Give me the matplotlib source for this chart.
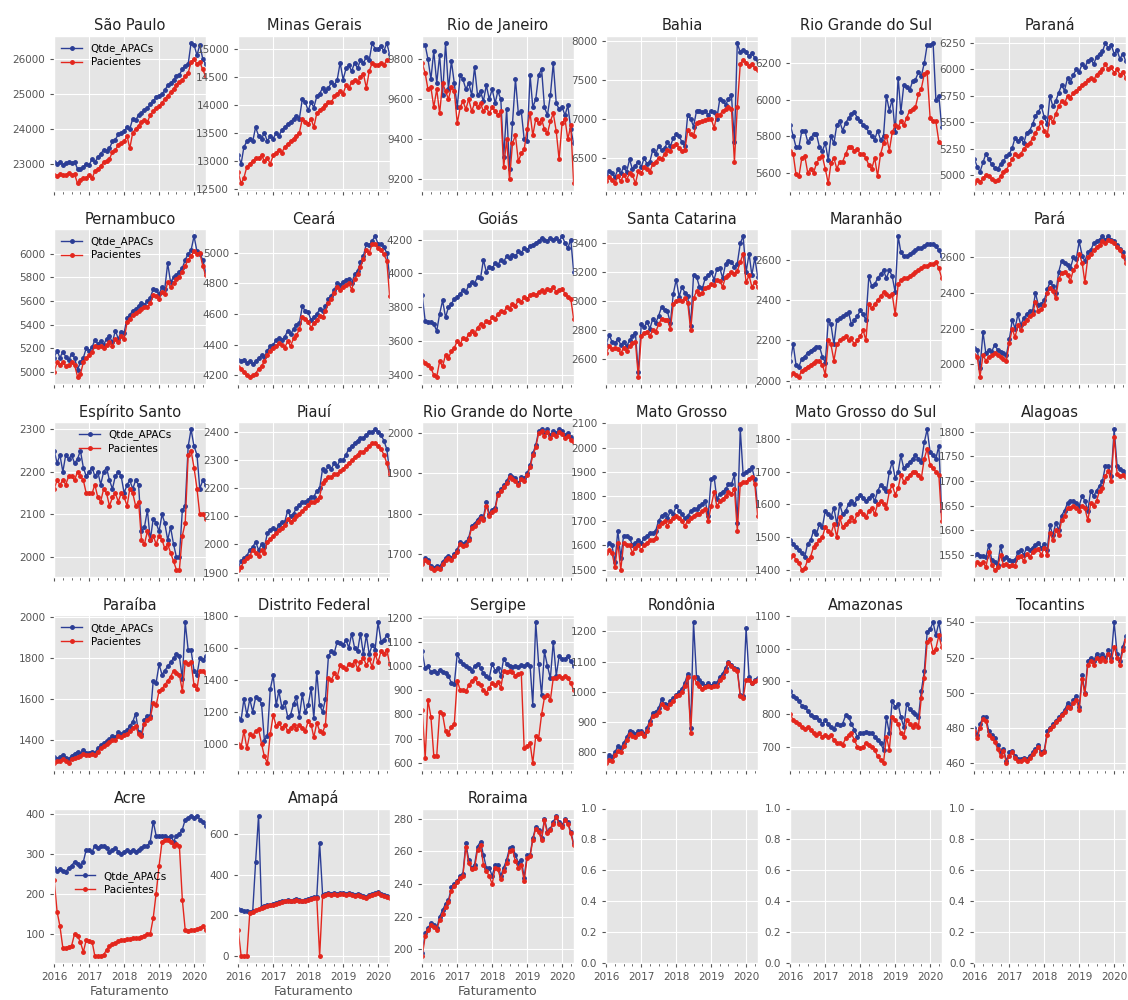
import matplotlib
matplotlib.use("Agg")
import matplotlib.pyplot as plt
import matplotlib.dates as mdates
from matplotlib.ticker import FixedLocator
import pandas as pd

plt.style.use("ggplot")
plt.rcParams["font.family"] = ["DejaVu Sans"]
plt.rcParams["xtick.labelsize"] = 7.5
plt.rcParams["ytick.labelsize"] = 7.5

months = pd.date_range("2016-01-01", periods=53, freq="MS")

states = ["São Paulo", "Minas Gerais", "Rio de Janeiro", "Bahia", "Rio Grande do Sul", "Paraná",
          "Pernambuco", "Ceará", "Goiás", "Santa Catarina", "Maranhão", "Pará",
          "Espírito Santo", "Piauí", "Rio Grande do Norte", "Mato Grosso", "Mato Grosso do Sul", "Alagoas",
          "Paraíba", "Distrito Federal", "Sergipe", "Rondônia", "Amazonas", "Tocantins",
          "Acre", "Amapá", "Roraima"]

sp_q = [23050, 23000, 23070, 22980, 23030, 23060, 23020, 23070, 22870, 22850, 22920, 23000, 22980, 23150, 23050, 23200, 23300, 23400, 23380, 23450, 23650, 23700, 23850, 23900, 23950, 24050, 24000, 24300, 24250, 24400, 24450, 24550, 24600, 24700, 24800, 24900, 24950, 25000, 25100, 25250, 25300, 25400, 25500, 25550, 25700, 25800, 25850, 26450, 26400, 26100, 26400, 26000, 25850]
sp_p = [22700, 22650, 22720, 22680, 22700, 22750, 22700, 22720, 22450, 22550, 22600, 22620, 22700, 22600, 22800, 22850, 22950, 23050, 23100, 23150, 23350, 23400, 23550, 23600, 23650, 23800, 23450, 23900, 24000, 24100, 24200, 24250, 24200, 24400, 24500, 24600, 24650, 24750, 24850, 24950, 25050, 25150, 25250, 25350, 25400, 25500, 25600, 25900, 26000, 25850, 25900, 25700, 25500]
mg_q = [13100, 12950, 13250, 13350, 13400, 13350, 13600, 13450, 13400, 13500, 13350, 13450, 13400, 13500, 13450, 13550, 13600, 13650, 13700, 13750, 13800, 13750, 14100, 14050, 13900, 14050, 13950, 14150, 14200, 14300, 14250, 14300, 14400, 14350, 14450, 14750, 14450, 14650, 14700, 14600, 14750, 14650, 14800, 14750, 14850, 14800, 15100, 15000, 15000, 15050, 14950, 15100, 14900]
mg_p = [12800, 12600, 12700, 12900, 12950, 13000, 13050, 13050, 13100, 13000, 13050, 12950, 13100, 13150, 13200, 13150, 13250, 13300, 13350, 13400, 13450, 13500, 13750, 13700, 13650, 13750, 13600, 13850, 13900, 13950, 14000, 14050, 14050, 14150, 14200, 14250, 14200, 14350, 14300, 14400, 14450, 14400, 14500, 14550, 14300, 14600, 14750, 14700, 14700, 14750, 14700, 14800, 14800]
rj_q = [9870, 9870, 9800, 9700, 9840, 9680, 9820, 9620, 9880, 9650, 9790, 9680, 9560, 9720, 9700, 9650, 9680, 9620, 9760, 9620, 9640, 9590, 9670, 9600, 9650, 9580, 9640, 9600, 9310, 9550, 9250, 9480, 9700, 9530, 9540, 9400, 9390, 9720, 9560, 9600, 9720, 9750, 9560, 9520, 9620, 9780, 9580, 9550, 9560, 9520, 9570, 9450, 9380]
rj_p = [9780, 9730, 9650, 9660, 9560, 9650, 9530, 9680, 9640, 9600, 9660, 9640, 9480, 9560, 9590, 9550, 9600, 9540, 9580, 9560, 9580, 9540, 9560, 9530, 9560, 9540, 9520, 9540, 9260, 9400, 9200, 9380, 9420, 9290, 9330, 9350, 9450, 9530, 9420, 9500, 9480, 9500, 9450, 9430, 9490, 9530, 9440, 9300, 9480, 9500, 9400, 9470, 9180]
ba_q = [6280, 6330, 6300, 6250, 6350, 6300, 6380, 6320, 6480, 6350, 6400, 6450, 6380, 6500, 6420, 6450, 6600, 6550, 6650, 6600, 6620, 6700, 6650, 6750, 6800, 6780, 6700, 6650, 7050, 7000, 6900, 7100, 7100, 7080, 7100, 7050, 7100, 7080, 7000, 7250, 7230, 7180, 7250, 7300, 6700, 7970, 7850, 7880, 7850, 7800, 7840, 7780, 7750]
ba_p = [6200, 6250, 6220, 6180, 6260, 6200, 6280, 6220, 6300, 6280, 6170, 6330, 6300, 6380, 6350, 6320, 6420, 6450, 6500, 6480, 6550, 6600, 6580, 6650, 6680, 6620, 6580, 6600, 6850, 6800, 6780, 6950, 6960, 6970, 6980, 6990, 7000, 6880, 7050, 7050, 7100, 7120, 7150, 7130, 6450, 7150, 7700, 7750, 7720, 7680, 7700, 7650, 7620]
rs_q = [5860, 5800, 5740, 5740, 5830, 5830, 5770, 5790, 5810, 5810, 5740, 5720, 5760, 5670, 5800, 5760, 5860, 5880, 5830, 5870, 5900, 5920, 5930, 5900, 5880, 5860, 5850, 5820, 5800, 5780, 5830, 5780, 5800, 6020, 5940, 6000, 5820, 6120, 5930, 6080, 6070, 6050, 6100, 6110, 6150, 6130, 6200, 6300, 6300, 6310, 6000, 6020, 5850]
rs_p = [5720, 5700, 5590, 5580, 5680, 5690, 5600, 5620, 5600, 5650, 5680, 5690, 5620, 5540, 5650, 5680, 5620, 5660, 5660, 5700, 5740, 5740, 5720, 5730, 5700, 5700, 5680, 5640, 5620, 5680, 5580, 5700, 5760, 5800, 5720, 5820, 5860, 5850, 5880, 5860, 5900, 5940, 5950, 5960, 6030, 6060, 6140, 6150, 5900, 5880, 5880, 5770, 5760]
pr_q = [5150, 5080, 5030, 5120, 5200, 5150, 5100, 5070, 5060, 5100, 5130, 5180, 5200, 5260, 5350, 5320, 5350, 5300, 5400, 5420, 5480, 5560, 5600, 5650, 5550, 5480, 5750, 5650, 5700, 5780, 5850, 5800, 5920, 5880, 5950, 6000, 5980, 6050, 6020, 6080, 6100, 6050, 6120, 6150, 6170, 6250, 6200, 6230, 6150, 6180, 6100, 6150, 6080]
pr_p = [4920, 4950, 4930, 4970, 5000, 4990, 4960, 4940, 4950, 4990, 5030, 5050, 5100, 5150, 5200, 5180, 5200, 5250, 5280, 5300, 5350, 5400, 5450, 5500, 5420, 5380, 5550, 5500, 5580, 5650, 5700, 5680, 5750, 5730, 5780, 5800, 5820, 5850, 5870, 5900, 5920, 5900, 5950, 5980, 6000, 6050, 6000, 6020, 5970, 6000, 5950, 5980, 5920]

pe_q = [5120, 5180, 5120, 5170, 5130, 5100, 5150, 5120, 5020, 5080, 5120, 5200, 5180, 5210, 5270, 5240, 5260, 5230, 5280, 5300, 5250, 5350, 5280, 5340, 5330, 5460, 5480, 5520, 5530, 5560, 5580, 5570, 5600, 5630, 5700, 5690, 5660, 5720, 5700, 5920, 5760, 5800, 5820, 5850, 5880, 5950, 6000, 6030, 6150, 6020, 6000, 5950, 5850]
pe_p = [5000, 5080, 5060, 5080, 5050, 5060, 5080, 5060, 4960, 4980, 5080, 5120, 5140, 5170, 5220, 5210, 5220, 5200, 5230, 5250, 5220, 5280, 5250, 5300, 5280, 5420, 5450, 5480, 5500, 5520, 5530, 5550, 5550, 5580, 5650, 5640, 5620, 5680, 5660, 5760, 5720, 5750, 5790, 5800, 5850, 5900, 5950, 5980, 6020, 6000, 6010, 5900, 5820]
ce_q = [4300, 4290, 4300, 4280, 4290, 4270, 4290, 4310, 4330, 4320, 4360, 4390, 4400, 4430, 4440, 4430, 4450, 4490, 4470, 4500, 4530, 4540, 4650, 4620, 4610, 4560, 4580, 4600, 4630, 4620, 4650, 4700, 4720, 4760, 4800, 4790, 4810, 4820, 4830, 4800, 4860, 4880, 4940, 4980, 5060, 5050, 5080, 5110, 5060, 5060, 5040, 5000, 4850]
ce_p = [4250, 4240, 4220, 4200, 4190, 4200, 4210, 4240, 4260, 4290, 4330, 4360, 4380, 4390, 4410, 4400, 4380, 4420, 4390, 4440, 4460, 4500, 4580, 4570, 4550, 4510, 4540, 4560, 4590, 4580, 4620, 4670, 4700, 4740, 4780, 4760, 4780, 4790, 4800, 4760, 4830, 4860, 4910, 4960, 5020, 5000, 5060, 5060, 5030, 5020, 4990, 4950, 4720]
go_q = [3870, 3720, 3710, 3710, 3700, 3660, 3760, 3840, 3740, 3800, 3820, 3850, 3860, 3880, 3900, 3890, 3930, 3950, 3940, 3980, 3970, 4080, 4010, 4040, 4030, 4060, 4050, 4080, 4070, 4100, 4090, 4110, 4100, 4130, 4120, 4150, 4140, 4160, 4170, 4180, 4190, 4210, 4200, 4190, 4210, 4200, 4210, 4190, 4220, 4180, 4150, 4200, 4010]
go_p = [3480, 3470, 3460, 3440, 3400, 3390, 3480, 3450, 3520, 3500, 3540, 3560, 3600, 3580, 3620, 3610, 3640, 3660, 3640, 3680, 3700, 3690, 3720, 3710, 3740, 3730, 3760, 3780, 3770, 3800, 3790, 3820, 3810, 3840, 3830, 3860, 3850, 3870, 3880, 3870, 3890, 3900, 3890, 3910, 3900, 3920, 3890, 3900, 3910, 3880, 3860, 3850, 3730]
sc_q = [2700, 2770, 2720, 2710, 2740, 2700, 2720, 2690, 2730, 2760, 2780, 2510, 2840, 2820, 2860, 2810, 2880, 2850, 2900, 2960, 2940, 2930, 2850, 3050, 3150, 3030, 3100, 3060, 3040, 2830, 3180, 3170, 3100, 3090, 3160, 3180, 3200, 3150, 3220, 3230, 3160, 3260, 3280, 3270, 3240, 3260, 3400, 3450, 3200, 3330, 3180, 3300, 3170]
sc_p = [2640, 2690, 2670, 2680, 2670, 2640, 2680, 2660, 2690, 2710, 2720, 2480, 2760, 2780, 2790, 2760, 2800, 2790, 2840, 2880, 2870, 2870, 2810, 2980, 3000, 3010, 3000, 3020, 2990, 2800, 3020, 3070, 3050, 3060, 3090, 3100, 3120, 3110, 3150, 3140, 3100, 3170, 3180, 3200, 3190, 3210, 3270, 3330, 3130, 3180, 3100, 3130, 3100]
ma_q = [2100, 2180, 2080, 2070, 2110, 2120, 2140, 2150, 2160, 2170, 2170, 2120, 2090, 2300, 2280, 2180, 2300, 2310, 2320, 2330, 2340, 2280, 2300, 2320, 2350, 2330, 2300, 2520, 2470, 2480, 2510, 2530, 2550, 2510, 2550, 2520, 2440, 2720, 2640, 2620, 2620, 2630, 2640, 2650, 2660, 2660, 2670, 2680, 2680, 2680, 2670, 2650, 2620]
ma_p = [2030, 2040, 2030, 2020, 2050, 2060, 2070, 2080, 2090, 2100, 2100, 2080, 2030, 2200, 2180, 2100, 2180, 2200, 2210, 2220, 2200, 2210, 2180, 2200, 2220, 2250, 2200, 2380, 2360, 2380, 2400, 2420, 2440, 2430, 2420, 2430, 2330, 2480, 2500, 2510, 2510, 2520, 2530, 2540, 2550, 2560, 2570, 2570, 2580, 2580, 2590, 2560, 2510]
pa_q = [2090, 2080, 1980, 2180, 2060, 2080, 2070, 2110, 2080, 2070, 2060, 2050, 2140, 2250, 2200, 2280, 2220, 2260, 2280, 2300, 2300, 2400, 2330, 2340, 2360, 2420, 2460, 2440, 2400, 2520, 2580, 2570, 2560, 2540, 2600, 2590, 2690, 2610, 2580, 2630, 2640, 2680, 2690, 2700, 2720, 2700, 2720, 2700, 2690, 2670, 2650, 2630, 2590]
pa_p = [2050, 2040, 1930, 2050, 2020, 2040, 2050, 2060, 2050, 2040, 2030, 2020, 2120, 2200, 2150, 2220, 2190, 2230, 2250, 2270, 2280, 2350, 2300, 2310, 2330, 2400, 2430, 2410, 2370, 2480, 2510, 2520, 2500, 2470, 2530, 2550, 2620, 2570, 2460, 2600, 2620, 2640, 2660, 2670, 2690, 2680, 2700, 2690, 2680, 2660, 2640, 2610, 2570]

es_q = [2250, 2220, 2240, 2200, 2240, 2230, 2240, 2220, 2230, 2250, 2210, 2190, 2200, 2210, 2190, 2200, 2170, 2200, 2210, 2180, 2160, 2190, 2200, 2190, 2150, 2170, 2180, 2160, 2180, 2170, 2060, 2070, 2110, 2040, 2090, 2080, 2060, 2100, 2080, 2040, 2070, 2030, 2000, 2000, 2110, 2120, 2260, 2300, 2260, 2240, 2160, 2180, 2170]
es_p = [2160, 2180, 2170, 2180, 2170, 2190, 2190, 2180, 2200, 2190, 2180, 2150, 2150, 2150, 2170, 2140, 2130, 2160, 2150, 2120, 2140, 2150, 2130, 2150, 2140, 2120, 2160, 2150, 2120, 2130, 2040, 2030, 2060, 2040, 2050, 2030, 2050, 2040, 2020, 2030, 2010, 1990, 1970, 1970, 2050, 2080, 2240, 2250, 2210, 2160, 2100, 2100, 2090]
pi_q = [1920, 1940, 1950, 1960, 1980, 1990, 2010, 1980, 2000, 1990, 2040, 2050, 2060, 2050, 2070, 2080, 2080, 2120, 2100, 2110, 2130, 2140, 2150, 2150, 2160, 2170, 2170, 2190, 2200, 2270, 2260, 2280, 2270, 2290, 2280, 2300, 2300, 2320, 2340, 2350, 2360, 2370, 2380, 2380, 2390, 2400, 2400, 2410, 2400, 2390, 2370, 2340, 2260]
pi_p = [1910, 1920, 1940, 1950, 1960, 1980, 1970, 1960, 1980, 1970, 2010, 2020, 2030, 2040, 2050, 2060, 2070, 2090, 2080, 2090, 2100, 2110, 2120, 2130, 2140, 2150, 2150, 2160, 2170, 2220, 2230, 2240, 2240, 2250, 2250, 2260, 2270, 2280, 2290, 2300, 2310, 2320, 2330, 2330, 2340, 2350, 2360, 2360, 2350, 2340, 2320, 2290, 2250]
rn_q = [1680, 1690, 1685, 1670, 1665, 1670, 1668, 1680, 1690, 1695, 1690, 1700, 1710, 1730, 1725, 1728, 1740, 1770, 1775, 1785, 1795, 1790, 1830, 1800, 1810, 1815, 1850, 1860, 1870, 1880, 1895, 1890, 1888, 1875, 1890, 1888, 1900, 1920, 1950, 1970, 2005, 2010, 2000, 2010, 1995, 2005, 2000, 2010, 2005, 1995, 2000, 1990, 1985]
rn_p = [1675, 1685, 1680, 1665, 1660, 1665, 1662, 1675, 1685, 1690, 1685, 1695, 1705, 1725, 1720, 1722, 1735, 1765, 1770, 1780, 1790, 1785, 1820, 1795, 1805, 1810, 1845, 1855, 1865, 1875, 1890, 1885, 1882, 1870, 1885, 1882, 1895, 1915, 1945, 1965, 2000, 2005, 1992, 2003, 1988, 1998, 1993, 2003, 1998, 1988, 1993, 1983, 1978]
mt_q = [1600, 1610, 1600, 1530, 1660, 1550, 1640, 1640, 1630, 1600, 1610, 1620, 1610, 1630, 1640, 1650, 1650, 1660, 1700, 1720, 1730, 1710, 1740, 1730, 1760, 1740, 1730, 1710, 1720, 1740, 1750, 1750, 1760, 1770, 1780, 1720, 1870, 1880, 1790, 1810, 1820, 1830, 1850, 1850, 1890, 1690, 2075, 1890, 1900, 1910, 1920, 1870, 1760]
mt_p = [1570, 1580, 1570, 1510, 1610, 1500, 1610, 1600, 1600, 1570, 1590, 1600, 1580, 1600, 1610, 1620, 1620, 1630, 1680, 1690, 1700, 1680, 1700, 1710, 1720, 1710, 1700, 1680, 1700, 1710, 1720, 1730, 1730, 1740, 1750, 1700, 1760, 1820, 1760, 1780, 1790, 1800, 1820, 1810, 1830, 1660, 1850, 1860, 1860, 1870, 1880, 1850, 1720]
ms_q = [1490, 1480, 1470, 1460, 1450, 1440, 1480, 1490, 1520, 1510, 1540, 1530, 1580, 1570, 1560, 1590, 1540, 1600, 1570, 1580, 1600, 1610, 1600, 1620, 1630, 1620, 1610, 1620, 1630, 1610, 1640, 1660, 1650, 1640, 1700, 1730, 1680, 1700, 1750, 1710, 1720, 1730, 1740, 1750, 1740, 1730, 1790, 1830, 1760, 1750, 1740, 1780, 1580]
ms_p = [1440, 1445, 1430, 1420, 1400, 1405, 1430, 1440, 1470, 1480, 1490, 1500, 1530, 1520, 1510, 1540, 1500, 1560, 1530, 1540, 1550, 1560, 1550, 1570, 1580, 1570, 1560, 1580, 1590, 1570, 1600, 1610, 1600, 1590, 1640, 1660, 1630, 1650, 1690, 1670, 1680, 1690, 1700, 1700, 1690, 1680, 1740, 1770, 1720, 1710, 1700, 1690, 1550]
al_q = [1550, 1552, 1548, 1547, 1545, 1570, 1540, 1535, 1530, 1568, 1542, 1545, 1540, 1538, 1540, 1555, 1560, 1550, 1565, 1560, 1565, 1570, 1575, 1565, 1572, 1560, 1610, 1590, 1615, 1600, 1630, 1640, 1655, 1660, 1660, 1655, 1650, 1670, 1660, 1640, 1680, 1670, 1680, 1690, 1700, 1730, 1730, 1710, 1805, 1730, 1725, 1720, 1718]
al_p = [1530, 1535, 1532, 1535, 1525, 1555, 1530, 1520, 1525, 1550, 1530, 1532, 1528, 1530, 1528, 1545, 1548, 1538, 1552, 1545, 1555, 1560, 1562, 1550, 1565, 1550, 1595, 1580, 1600, 1590, 1620, 1630, 1645, 1645, 1650, 1645, 1640, 1650, 1645, 1620, 1655, 1650, 1660, 1680, 1685, 1710, 1720, 1700, 1790, 1715, 1710, 1712, 1708]

pb_q = [1320, 1310, 1320, 1330, 1315, 1310, 1325, 1335, 1345, 1335, 1355, 1340, 1340, 1345, 1340, 1360, 1375, 1385, 1395, 1405, 1420, 1415, 1440, 1430, 1440, 1450, 1470, 1490, 1530, 1440, 1430, 1500, 1520, 1520, 1690, 1680, 1770, 1720, 1740, 1760, 1780, 1800, 1820, 1810, 1700, 1975, 1840, 1840, 1740, 1720, 1800, 1790, 1810]
pb_p = [1290, 1300, 1300, 1310, 1300, 1290, 1310, 1315, 1320, 1325, 1335, 1330, 1330, 1335, 1330, 1345, 1360, 1370, 1380, 1390, 1400, 1400, 1420, 1415, 1425, 1430, 1445, 1460, 1470, 1430, 1420, 1480, 1500, 1510, 1580, 1570, 1640, 1650, 1670, 1690, 1710, 1740, 1730, 1720, 1640, 1780, 1770, 1780, 1670, 1650, 1740, 1740, 1730]
df_q = [1160, 1150, 1280, 1180, 1280, 1200, 1290, 1280, 1250, 1020, 1050, 1340, 1430, 1240, 1330, 1230, 1260, 1170, 1180, 1250, 1290, 1170, 1310, 1200, 1240, 1350, 1160, 1450, 1240, 1200, 1280, 1550, 1580, 1570, 1640, 1630, 1620, 1650, 1600, 1690, 1600, 1580, 1690, 1560, 1680, 1560, 1620, 1590, 1760, 1640, 1650, 1680, 1650]
df_p = [1000, 980, 1080, 970, 1060, 1050, 1080, 1090, 1000, 920, 880, 1060, 1180, 1110, 1130, 1100, 1120, 1080, 1100, 1120, 1090, 1120, 1100, 1080, 1140, 1120, 1040, 1130, 1080, 1070, 1120, 1410, 1400, 1440, 1420, 1490, 1480, 1470, 1500, 1490, 1520, 1470, 1510, 1540, 1490, 1530, 1480, 1560, 1510, 1580, 1560, 1590, 1500]
se_q = [1060, 990, 1000, 975, 980, 970, 985, 975, 970, 960, 930, 925, 1050, 1020, 1010, 1000, 990, 980, 1000, 1010, 990, 970, 960, 950, 1010, 980, 990, 960, 1030, 1010, 1000, 995, 1000, 995, 1005, 1000, 1010, 1000, 840, 1180, 1010, 880, 1060, 1000, 950, 1100, 960, 1040, 1030, 1030, 1040, 1020, 1000]
se_p = [820, 620, 860, 790, 630, 630, 810, 800, 730, 720, 750, 760, 940, 900, 900, 895, 920, 940, 950, 930, 920, 900, 890, 910, 930, 920, 935, 910, 980, 975, 980, 975, 960, 965, 970, 660, 670, 680, 600, 710, 700, 800, 870, 880, 860, 950, 950, 960, 950, 960, 950, 930, 900]
ro_q = [780, 790, 785, 800, 820, 815, 830, 850, 870, 868, 860, 870, 872, 860, 880, 905, 930, 935, 945, 975, 960, 955, 970, 980, 990, 1000, 1010, 1030, 1060, 880, 1230, 1050, 1040, 1030, 1020, 1030, 1020, 1030, 1030, 1050, 1060, 1080, 1100, 1090, 1080, 1075, 990, 985, 1210, 1050, 1030, 1040, 1045]
ro_p = [765, 775, 770, 790, 805, 800, 820, 840, 860, 855, 850, 862, 865, 855, 870, 895, 920, 925, 935, 960, 950, 945, 960, 970, 985, 990, 1000, 1020, 1050, 865, 1050, 1030, 1020, 1010, 1015, 1020, 1015, 1020, 1020, 1040, 1050, 1070, 1095, 1085, 1075, 1070, 985, 980, 1040, 1040, 1030, 1035, 1040]
am_q = [870, 855, 850, 840, 825, 820, 810, 795, 790, 790, 780, 770, 780, 770, 760, 755, 770, 765, 770, 795, 790, 770, 750, 730, 740, 740, 745, 740, 740, 730, 720, 710, 690, 790, 740, 840, 820, 830, 790, 760, 830, 815, 805, 800, 790, 870, 930, 1050, 1060, 1080, 1040, 1080, 1030]
am_p = [800, 780, 775, 770, 760, 755, 760, 750, 740, 735, 740, 730, 735, 730, 735, 720, 710, 712, 705, 725, 735, 740, 720, 700, 695, 700, 710, 705, 700, 690, 670, 660, 650, 730, 690, 790, 780, 770, 740, 730, 780, 770, 760, 770, 760, 850, 910, 1020, 1030, 990, 1000, 1040, 1005]
to_q = [480, 476, 482, 486, 486, 478, 476, 474, 470, 466, 468, 461, 466, 467, 464, 462, 462, 463, 462, 464, 466, 468, 470, 466, 467, 478, 480, 482, 484, 486, 488, 490, 494, 492, 496, 498, 492, 510, 500, 518, 520, 518, 522, 520, 522, 520, 524, 520, 540, 522, 518, 526, 532]
to_p = [478, 474, 480, 485, 484, 476, 474, 472, 468, 464, 467, 460, 464, 466, 463, 461, 461, 462, 461, 463, 465, 467, 469, 465, 466, 476, 479, 481, 483, 485, 487, 489, 492, 491, 494, 496, 490, 508, 499, 516, 518, 516, 520, 518, 520, 518, 522, 518, 526, 520, 516, 524, 530]

ac_q = [265, 258, 262, 258, 255, 265, 270, 280, 275, 270, 280, 310, 310, 305, 320, 315, 320, 318, 315, 305, 310, 315, 305, 300, 305, 308, 305, 310, 305, 310, 315, 320, 320, 330, 380, 345, 345, 345, 345, 340, 345, 330, 345, 350, 360, 385, 390, 395, 390, 395, 385, 380, 370]
ac_p = [235, 155, 120, 65, 65, 68, 70, 100, 95, 80, 55, 85, 82, 80, 45, 45, 45, 48, 60, 70, 75, 78, 82, 85, 86, 88, 88, 90, 90, 90, 92, 95, 100, 100, 140, 200, 270, 330, 335, 335, 330, 320, 325, 320, 185, 110, 108, 110, 110, 112, 115, 120, 110]
ap_q = [230, 225, 220, 220, 215, 220, 460, 690, 240, 245, 250, 250, 255, 260, 265, 270, 270, 275, 270, 275, 280, 275, 270, 275, 280, 285, 290, 290, 555, 300, 305, 310, 305, 310, 305, 310, 310, 305, 310, 305, 300, 305, 300, 295, 290, 300, 305, 310, 315, 305, 300, 295, 290]
ap_p = [130, 0, 0, 0, 210, 215, 225, 230, 235, 240, 245, 248, 250, 255, 258, 265, 268, 270, 268, 272, 275, 272, 268, 272, 275, 280, 285, 285, 0, 295, 300, 305, 300, 305, 300, 305, 305, 300, 305, 300, 295, 300, 295, 290, 285, 295, 300, 305, 310, 300, 295, 290, 285]
rr_q = [198, 210, 213, 216, 215, 213, 220, 224, 228, 230, 238, 240, 242, 245, 246, 265, 255, 250, 252, 263, 266, 258, 250, 250, 245, 252, 252, 245, 250, 255, 262, 263, 258, 253, 255, 244, 258, 258, 268, 275, 273, 268, 280, 272, 274, 278, 282, 278, 276, 280, 278, 272, 265]
rr_p = [196, 208, 212, 215, 214, 212, 218, 222, 226, 229, 236, 239, 241, 244, 245, 263, 253, 249, 250, 261, 264, 252, 248, 245, 240, 250, 249, 243, 248, 253, 260, 261, 254, 250, 252, 242, 256, 257, 267, 274, 272, 267, 279, 271, 273, 277, 281, 277, 275, 279, 277, 271, 264]

yticks = {
    "São Paulo": [23000, 24000, 25000, 26000],
    "Minas Gerais": [12500, 13000, 13500, 14000, 14500, 15000],
    "Rio de Janeiro": [9200, 9400, 9600, 9800],
    "Bahia": [6500, 7000, 7500, 8000],
    "Rio Grande do Sul": [5600, 5800, 6000, 6200],
    "Paraná": [5000, 5250, 5500, 5750, 6000, 6250],
    "Pernambuco": [5000, 5200, 5400, 5600, 5800, 6000],
    "Ceará": [4200, 4400, 4600, 4800, 5000],
    "Goiás": [3400, 3600, 3800, 4000, 4200],
    "Santa Catarina": [2600, 2800, 3000, 3200, 3400],
    "Maranhão": [2000, 2200, 2400, 2600],
    "Pará": [2000, 2200, 2400, 2600],
    "Espírito Santo": [2000, 2100, 2200, 2300],
    "Piauí": [1900, 2000, 2100, 2200, 2300, 2400],
    "Rio Grande do Norte": [1700, 1800, 1900, 2000],
    "Mato Grosso": [1500, 1600, 1700, 1800, 1900, 2000, 2100],
    "Mato Grosso do Sul": [1400, 1500, 1600, 1700, 1800],
    "Alagoas": [1550, 1600, 1650, 1700, 1750, 1800],
    "Paraíba": [1400, 1600, 1800, 2000],
    "Distrito Federal": [1000, 1200, 1400, 1600, 1800],
    "Sergipe": [600, 700, 800, 900, 1000, 1100, 1200],
    "Rondônia": [800, 900, 1000, 1100, 1200],
    "Amazonas": [700, 800, 900, 1000, 1100],
    "Tocantins": [460, 480, 500, 520, 540],
    "Acre": [100, 200, 300, 400],
    "Amapá": [0, 200, 400, 600],
    "Roraima": [200, 220, 240, 260, 280],
}

qtde = [sp_q, mg_q, rj_q, ba_q, rs_q, pr_q, pe_q, ce_q, go_q, sc_q, ma_q, pa_q,
        es_q, pi_q, rn_q, mt_q, ms_q, al_q, pb_q, df_q, se_q, ro_q, am_q, to_q,
        ac_q, ap_q, rr_q]
pacientes = [sp_p, mg_p, rj_p, ba_p, rs_p, pr_p, pe_p, ce_p, go_p, sc_p, ma_p, pa_p,
             es_p, pi_p, rn_p, mt_p, ms_p, al_p, pb_p, df_p, se_p, ro_p, am_p, to_p,
             ac_p, ap_p, rr_p]

legend_loc = {
    "São Paulo": dict(loc="upper left"),
    "Pernambuco": dict(loc="upper left"),
    "Espírito Santo": dict(loc="upper center", bbox_to_anchor=(0.47, 1.0)),
    "Paraíba": dict(loc="upper left"),
    "Acre": dict(loc="center", bbox_to_anchor=(0.44, 0.52)),
}

BLUE = "#2b3d95"
RED = "#e3261d"

fig, axes = plt.subplots(5, 6, figsize=(11.28, 10), dpi=100, sharex=True)
fig.subplots_adjust(left=0.048, right=0.998, bottom=0.037, top=0.964,
                    wspace=0.215, hspace=0.25)

for k, ax in enumerate(axes.flat):
    ax.tick_params(axis="both", colors="#555555", labelsize=7.5, length=3)
    if k >= len(states):
        continue
    name = states[k]
    q = qtde[k]
    p = pacientes[k]
    ax.plot(months[:len(q)], q, color=BLUE, marker=".", ms=5, lw=1.0, label="Qtde_APACs")
    ax.plot(months[:len(p)], p, color=RED, marker=".", ms=5, lw=1.0, label="Pacientes")
    ax.yaxis.set_major_locator(FixedLocator(yticks[name]))
    ax.set_title(name, fontsize=10.5, pad=4, color="#222222")
    if name in legend_loc:
        ax.legend(fontsize=7.5, frameon=False, handlelength=2.0, borderaxespad=0.3,
                  labelspacing=0.3, **legend_loc[name])
    if k >= 24:
        ax.set_xlabel("Faturamento", fontsize=9, color="#555555", labelpad=2)

ax0 = axes[0, 0]
ax0.set_xlim(months[0], months[-1])
ax0.xaxis.set_major_locator(mdates.YearLocator())
ax0.xaxis.set_major_formatter(mdates.DateFormatter("%Y"))
ax0.xaxis.set_minor_locator(mdates.MonthLocator(bymonth=[4, 7, 10]))
for ax in axes.flat:
    ax.tick_params(axis="x", which="minor", length=2, colors="#555555")
    for lbl in ax.get_xticklabels():
        lbl.set_rotation(0)
        lbl.set_horizontalalignment("center")

fig.savefig("out.png", dpi=100)
